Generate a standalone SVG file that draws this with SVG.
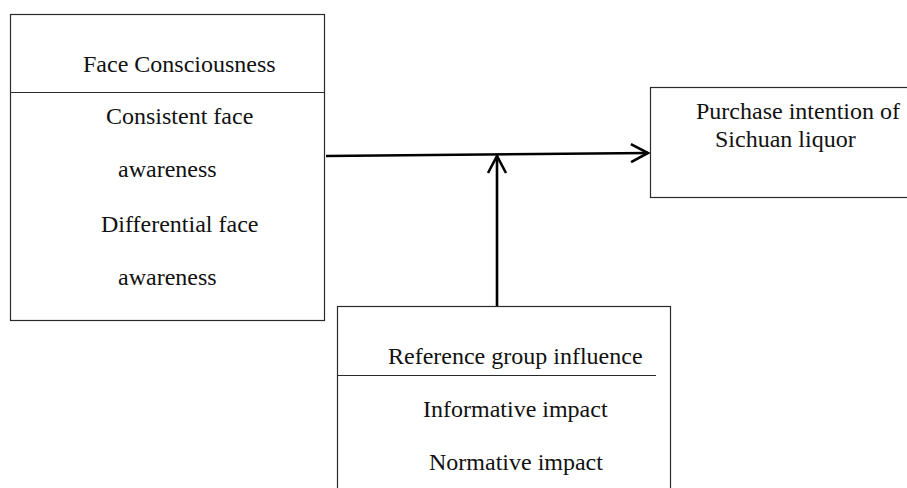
<svg xmlns="http://www.w3.org/2000/svg" width="907" height="488" viewBox="0 0 907 488">
  <style>
    .box { fill: #ffffff; stroke: #2a2a2a; stroke-width: 1.2; }
    .div { stroke: #2a2a2a; stroke-width: 1.2; }
    .t { font-family: "Liberation Serif", "Times New Roman", serif; font-size: 24px; fill: #111111; }
    .conn { stroke: #000000; stroke-width: 2.6; fill: none; }
  </style>
  <defs>
    <marker id="arrow" markerUnits="userSpaceOnUse" markerWidth="24" markerHeight="26" refX="19" refY="11" orient="auto">
      <path d="M2,2 L19,11 L2,20" fill="none" stroke="#000000" stroke-width="2.6"/>
    </marker>
  </defs>
  <rect width="907" height="488" fill="#ffffff"/>

  <g id="face-consciousness">
    <rect class="box" x="10.5" y="14.5" width="314" height="306"/>
    <line class="div" x1="10.5" y1="92.5" x2="324.5" y2="92.5"/>
    <text class="t" x="83" y="72">Face Consciousness</text>
    <text class="t" x="106" y="124">Consistent face</text>
    <text class="t" x="118" y="177">awareness</text>
    <text class="t" x="101" y="232">Differential face</text>
    <text class="t" x="118" y="285">awareness</text>
  </g>

  <g id="purchase-intention">
    <rect class="box" x="650.5" y="87.5" width="280" height="110"/>
    <text class="t" x="696" y="119">Purchase intention of</text>
    <text class="t" x="715" y="147">Sichuan liquor</text>
  </g>

  <g id="reference-group">
    <rect class="box" x="337.5" y="306.5" width="333" height="200"/>
    <line class="div" x1="337.5" y1="375.5" x2="656" y2="375.5"/>
    <text class="t" x="388" y="364">Reference group influence</text>
    <text class="t" x="423" y="417">Informative impact</text>
    <text class="t" x="429" y="470">Normative impact</text>
  </g>

  <g id="connectors">
    <line class="conn" x1="326" y1="156" x2="648" y2="153" marker-end="url(#arrow)"/>
    <line class="conn" x1="497" y1="306" x2="497" y2="156" marker-end="url(#arrow)"/>
  </g>
</svg>
